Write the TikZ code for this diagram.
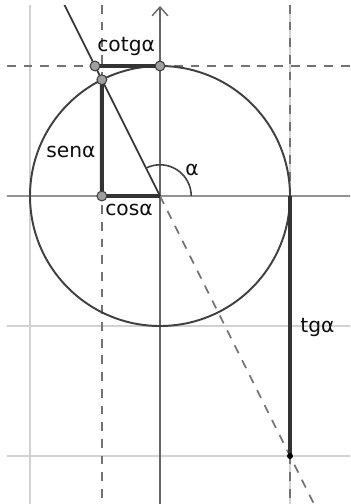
\documentclass[tikz,border=0pt]{standalone}
\usepackage{fontspec}
\setmainfont{DejaVu Sans}
\usepackage{tikz}
\usetikzlibrary{arrows.meta,calc}

\tikzset{
    gridline/.style={gray!35, line width=0.7pt},
    axisline/.style={gray!85, line width=0.8pt},
    guide/.style={black!55, line width=0.9pt, dash pattern=on 5pt off 4.5pt},
    trig/.style={black!80, line width=2.2pt},
    dot/.style={circle, fill=gray!75, draw=black!75, line width=0.6pt, inner sep=0pt, minimum size=5.6pt},
    lbl/.style={anchor=base west, inner sep=0pt, text=black!95, font=\fontsize{11.5}{13}\selectfont}
}

\begin{document}
\begin{tikzpicture}[x=2.6cm, y=2.6cm]
    \useasboundingbox (-1.2308,-2.3692) rectangle (1.4615,1.5077);
    \def\ang{116.565}

    \coordinate (O) at (0,0);
    \coordinate (P) at (\ang:1);
    \coordinate (C) at (-0.4472,0);
    \coordinate (K) at (-0.5,1);
    \coordinate (N) at (0,1);
    \coordinate (A) at (1,0);
    \coordinate (T) at (1,-2);

    \begin{scope}
    \clip (-1.177,-2.3692) rectangle (1.4615,1.4615);
    % grid
    \draw[gridline] (-1,-2.4) -- (-1,1.5);
    \draw[gridline] (1,-2.4) -- (1,1.5);
    \draw[gridline] (-1.2,-1) -- (1.5,-1);
    \draw[gridline] (-1.2,-2) -- (1.5,-2);

    % axes
    \draw[axisline] (-1.2,0) -- (1.5,0);
    \draw[axisline, black!60, -{Straight Barb[length=5pt, width=9pt]}] (0,-2.4) -- (0,1.4615);

    % guides
    \draw[guide] (C) ++(0,1.47) -- ++(0,-3.9);
    \draw[guide] (A) ++(0,1.47) -- ++(0,-3.9);
    \draw[guide] (-1.177,1) -- (1.5,1);
    \draw[guide] (O) -- ($(O)!1.5!(T)$);

    \draw[black!80, line width=0.9pt] (O) -- ($(O)!2!(K)$);
    \draw[black!75, line width=1.1pt] (O) circle (1);
    \draw[black!75, line width=0.9pt] (0.24,0) arc (0:\ang:0.24);
    \end{scope}

    % segments
    \draw[trig] (C) -- (O);
    \draw[trig] (C) -- (P);
    \draw[trig] (K) -- (N);
    \draw[trig] (A) -- (T);

    \node[dot] (k) at (K) {};
    \node[dot] (n) at (N) {};
    \node[dot] (p) at (P) {};
    \node[dot] (c) at (C) {};
    \node[circle, fill=black, inner sep=0pt, minimum size=3.4pt] (t) at (T) {};

    \node[lbl] (cotg) at (-0.4846,1.1100) {cotgα};
    \node[lbl] (sen) at (-0.8769,0.2923) {senα};
    \node[lbl] (alfa) at (0.1923,0.1615) {α};
    \node[lbl] (cos) at (-0.4231,-0.1462) {cosα};
    \node[lbl] (tg) at (1.0769,-1.0462) {tgα};
\end{tikzpicture}
\end{document}
